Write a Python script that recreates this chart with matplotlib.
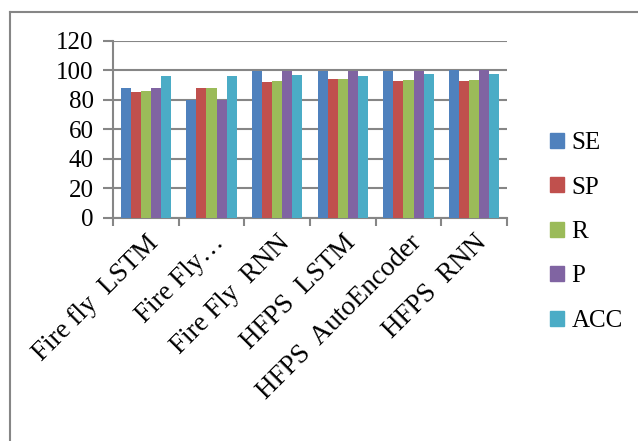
import matplotlib
matplotlib.use("Agg")
import matplotlib.pyplot as plt
from matplotlib.lines import Line2D
from matplotlib.patches import Patch
import numpy as np

categories = ["Fire fly  LSTM", "Fire Fly\u2026", "Fire Fly  RNN",
              "HFPS  LSTM", "HFPS  AutoEncoder", "HFPS  RNN"]
series_names = ["SE", "SP", "R", "P", "ACC"]
SE = [88, 80, 99.2, 99.7, 99.2, 99.9]
SP = [85, 88, 91.7, 93.8, 92.7, 92.7]
R = [86, 88, 92.7, 94.2, 93.3, 93.3]
P = [88, 80, 99.2, 99.7, 99.2, 99.9]
ACC = [96, 96, 96.5, 96, 97.2, 97.6]
yticks = [0, 20, 40, 60, 80, 100, 120]

colors = ["#4F81BD", "#C0504D", "#9BBB59", "#8064A2", "#4BACC6"]

plt.rcParams['font.family'] = ['Liberation Serif', 'DejaVu Serif']

W, H = 638, 441
fig = plt.figure(figsize=(W / 100, H / 100), dpi=100)
ax = fig.add_axes([113 / W, 1 - 217.7 / H, (507 - 113) / W, (217.7 - 40.7) / H])

x = np.arange(len(categories))
bw = 0.154
for i, vals in enumerate([SE, SP, R, P, ACC]):
    ax.bar(x + (i - 2) * bw, vals, bw, color=colors[i], zorder=3)

ax.set_xlim(-0.5, len(categories) - 0.5)
ax.set_ylim(0, 120)
ax.set_yticks(yticks)
ax.set_yticklabels([str(v) for v in yticks], fontsize=18)
ax.yaxis.grid(True, color="#868686", linewidth=1.5, zorder=0)
for s in ["top", "right"]:
    ax.spines[s].set_visible(False)
for s in ["left", "bottom"]:
    ax.spines[s].set_color("#868686")
    ax.spines[s].set_linewidth(1.5)
ax.tick_params(axis="y", length=7, width=1.5, color="#868686", pad=7)

ax.set_xticks(np.arange(-0.5, len(categories)), minor=False)
ax.set_xticklabels([])
ax.set_xticks(x, minor=True)
ax.set_xticklabels(categories, minor=True, rotation=45, ha="right",
                   rotation_mode="anchor", fontsize=19.5)
ax.tick_params(axis="x", which="major", length=6, width=1.5, color="#868686")
ax.tick_params(axis="x", which="minor", length=0, pad=9)

handles = [Patch(color=c) for c in colors]
fig.legend(handles, series_names, loc="upper left",
           bbox_to_anchor=(540 / W, 1 - 122 / H), frameon=False,
           fontsize=18, handlelength=0.55, handleheight=0.55,
           handletextpad=0.3, labelspacing=0.9, borderaxespad=0)

# outer chart border (top and left visible)
fig.add_artist(Line2D([10 / W, 1], [1 - 12 / H, 1 - 12 / H], color="#868686", lw=1.5))
fig.add_artist(Line2D([10 / W, 10 / W], [0, 1 - 12 / H], color="#868686", lw=1.5))

fig.savefig("out.png", dpi=100)
